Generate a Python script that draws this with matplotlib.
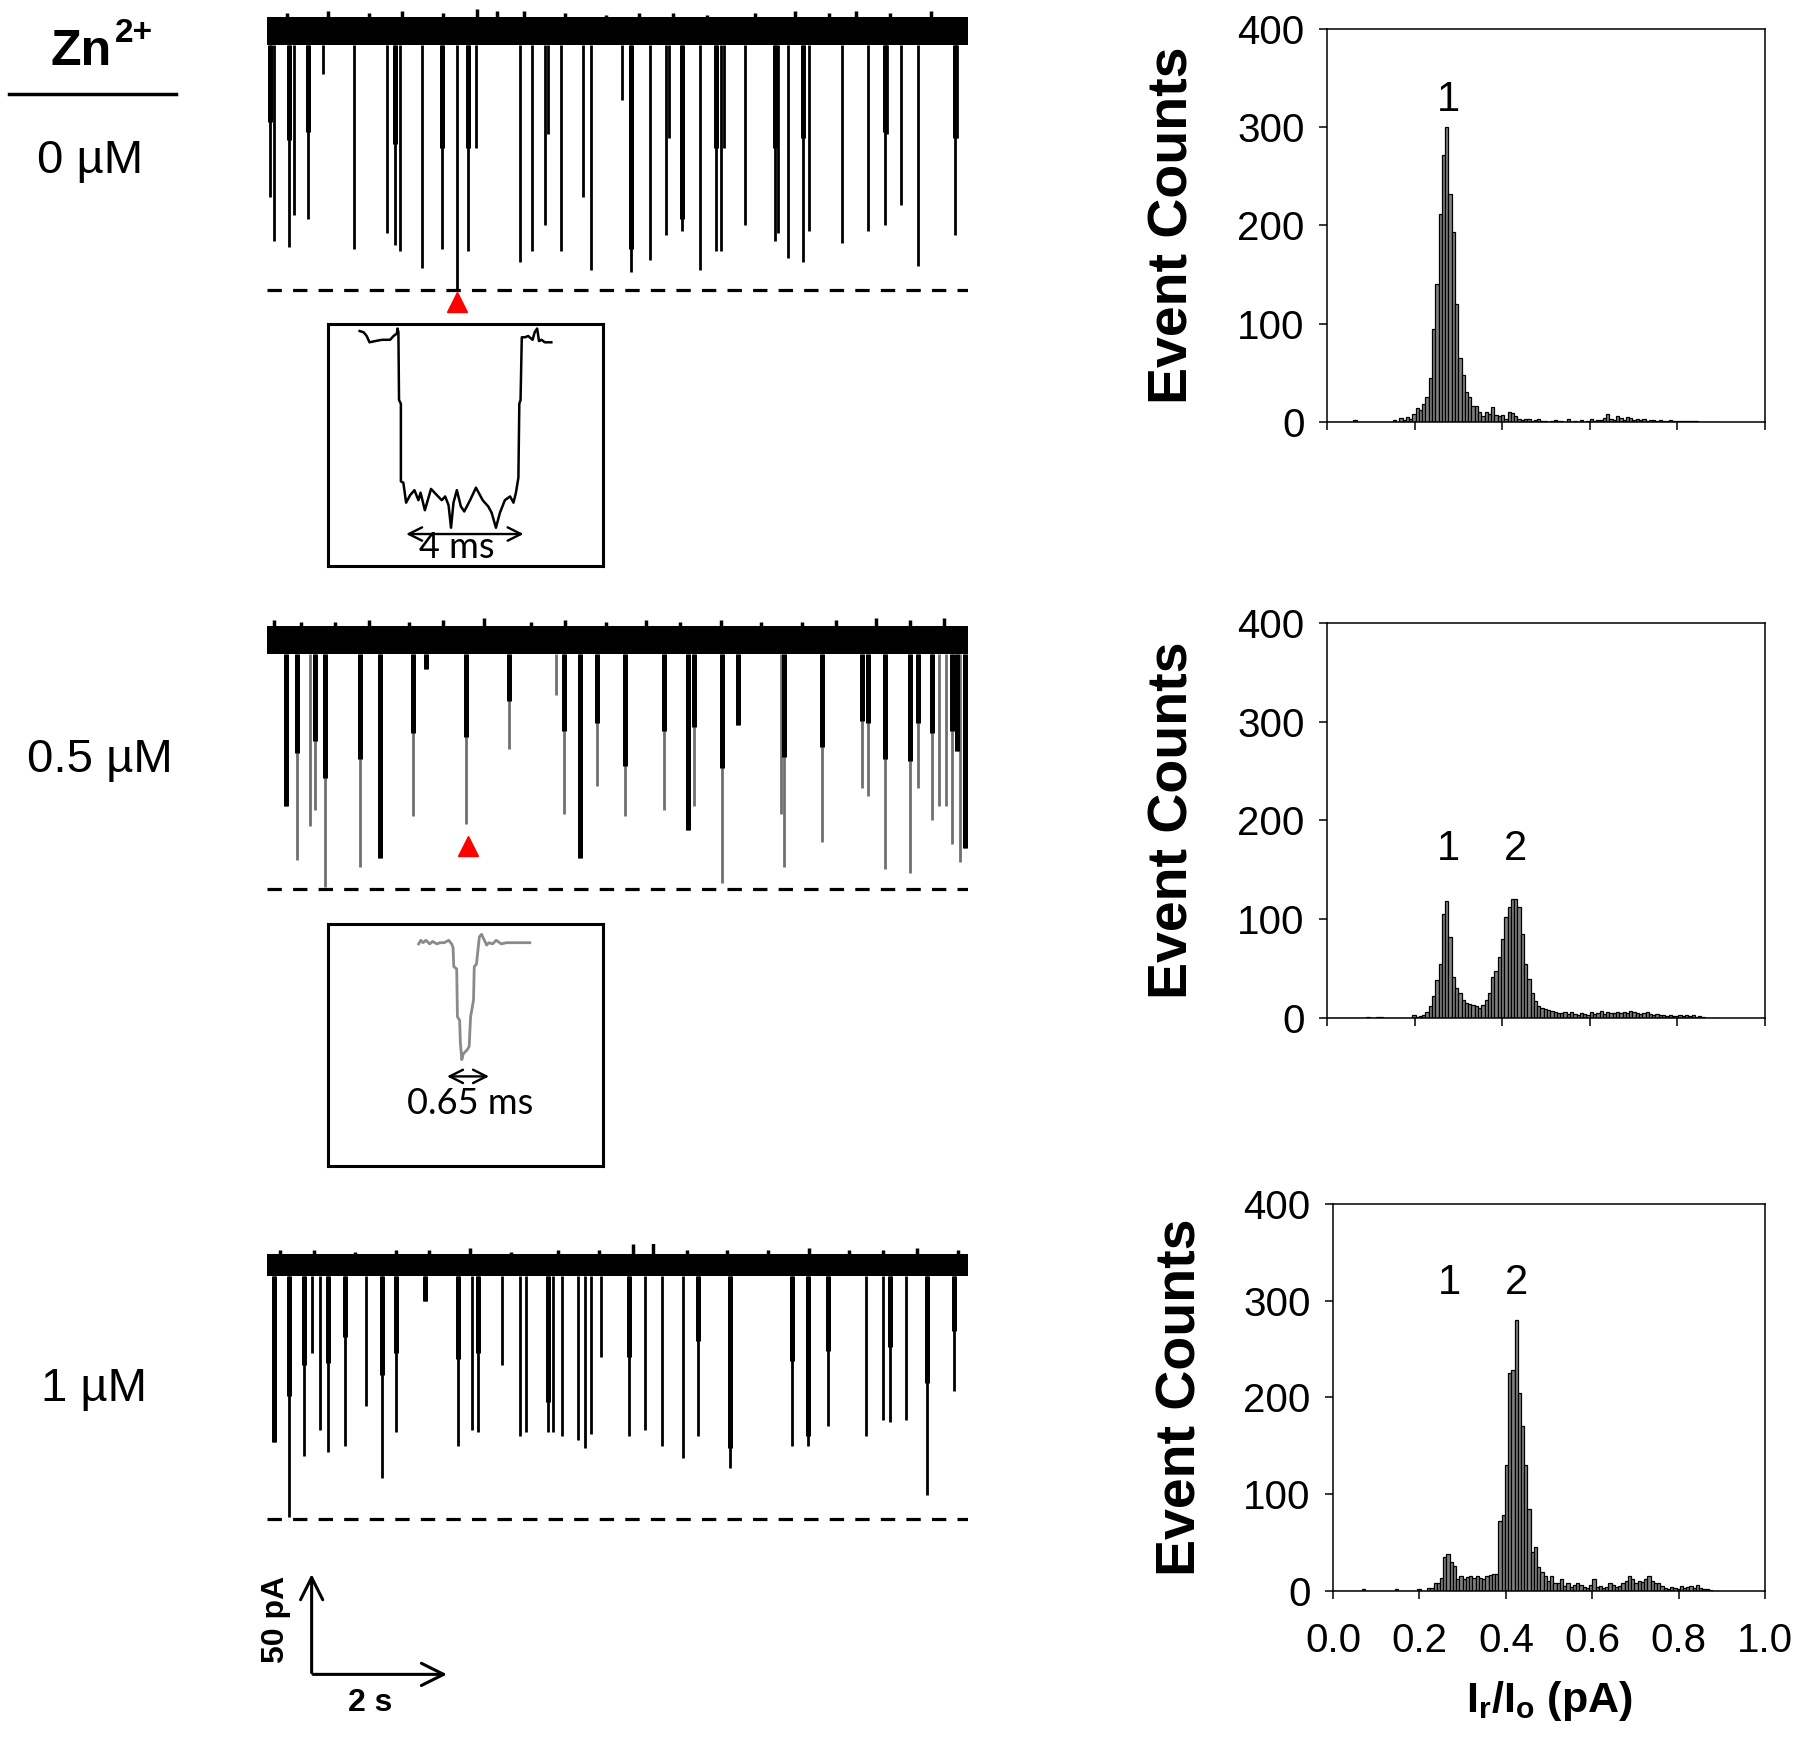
import numpy as np
import matplotlib
matplotlib.use('Agg')
import matplotlib.pyplot as plt

plt.rcParams['font.family'] = ['Liberation Sans', 'DejaVu Sans']
plt.rcParams['mathtext.fontset'] = 'custom'
plt.rcParams['mathtext.rm'] = 'Liberation Sans'
plt.rcParams['mathtext.it'] = 'Liberation Sans:italic'
plt.rcParams['mathtext.bf'] = 'Liberation Sans:bold'

# ---- histogram data (bin width 0.0075, first bin starts at 0.0) ----
BIN_W = 0.0075
hist_0uM = [0, 0, 0, 0, 0, 0, 0, 0, 2, 0,
            0, 0, 0, 0, 0, 0, 0, 0, 0, 0,
            2, 0, 4, 2, 5, 3, 8, 14, 12, 18,
            25, 45, 95, 140, 212, 272, 300, 232, 193, 120,
            65, 48, 30, 25, 16, 16, 10, 6, 10, 8,
            15, 7, 6, 7, 3, 10, 9, 6, 3, 2,
            3, 3, 1, 2, 3, 1, 1, 0, 1, 2,
            1, 1, 0, 3, 0, 1, 0, 2, 0, 1,
            3, 1, 2, 2, 4, 8, 3, 2, 6, 4,
            2, 5, 4, 2, 3, 2, 3, 1, 2, 2,
            1, 2, 1, 1, 2, 1, 1, 1, 1, 1,
            1, 1, 1, 0, 0, 0, 0, 0, 0, 0]
hist_05uM = [0, 0, 0, 0, 0, 0, 0, 0, 0, 0,
             0, 0, 1, 0, 0, 1, 1, 0, 0, 0,
             0, 0, 0, 0, 0, 0, 3, 1, 2, 3,
             6, 12, 22, 38, 55, 105, 118, 82, 42, 30,
             25, 18, 15, 14, 13, 12, 10, 13, 18, 25,
             42, 48, 62, 80, 102, 112, 120, 120, 112, 85,
             55, 40, 25, 17, 12, 10, 9, 8, 7, 6,
             5, 5, 6, 4, 6, 4, 3, 5, 4, 3,
             6, 4, 5, 7, 4, 6, 5, 5, 6, 5,
             6, 5, 7, 6, 5, 4, 5, 6, 4, 3,
             4, 3, 3, 2, 3, 2, 2, 3, 2, 3,
             2, 3, 1, 2, 1, 0, 0, 0, 0, 0]
hist_1uM = [0, 0, 0, 0, 0, 0, 0, 0, 0, 2,
            0, 0, 0, 0, 0, 0, 0, 0, 0, 2,
            0, 0, 0, 0, 0, 0, 2, 0, 0, 3,
            3, 8, 8, 13, 35, 38, 30, 26, 12, 15,
            12, 14, 15, 13, 15, 13, 12, 15, 16, 18,
            18, 72, 78, 130, 225, 228, 280, 205, 170, 130,
            85, 40, 45, 25, 20, 15, 10, 15, 8, 8,
            12, 5, 8, 4, 6, 8, 6, 4, 3, 6,
            12, 4, 5, 3, 4, 8, 6, 4, 5, 8,
            10, 15, 12, 8, 10, 9, 12, 15, 10, 8,
            8, 5, 3, 2, 4, 3, 2, 5, 3, 4,
            5, 3, 6, 3, 2, 2, 1, 0, 0, 0]
peak_labels = [[('1', 0.278, 328)],
               [('1', 0.278, 171), ('2', 0.43, 171)],
               [('1', 0.27, 318), ('2', 0.425, 318)]]
hist_xticks = [0.0, 0.2, 0.4, 0.6, 0.8, 1.0]
hist_yticks = [0, 100, 200, 300, 400]

# ---- current traces: event time (s), depth below baseline (pA), dark part (pA) ----
T_END = 10.35
trace1_t = [0.05, 0.11, 0.33, 0.40, 0.61, 0.83, 1.28, 1.77, 1.89, 1.96,
            2.29, 2.59, 2.81, 2.97, 3.09, 3.73, 3.92, 4.11, 4.15, 4.34,
            4.67, 4.79, 5.24, 5.38, 5.66, 5.90, 5.94, 6.13, 6.40, 6.63,
            6.70, 6.75, 7.06, 7.50, 7.55, 7.69, 7.92, 8.00, 8.49, 8.87,
            9.13, 9.16, 9.36, 9.62, 10.16, 10.19]
trace1_depth = [89, 111, 114, 98, 100, 28, 115, 107, 113, 116,
                124, 115, 135, 116, 65, 121, 116, 103, 58, 116,
                89, 125, 41, 126, 120, 108, 60, 106, 125, 116,
                116, 65, 103, 111, 107, 119, 121, 106, 112, 106,
                103, 58, 93, 123, 108, 60]
trace1_dark = [52, 0, 61, 0, 57, 0, 0, 0, 63, 0,
               0, 65, 0, 65, 0, 0, 0, 0, 0, 0,
               0, 0, 0, 115, 0, 0, 0, 100, 0, 65,
               0, 0, 0, 65, 0, 0, 60, 0, 0, 0,
               57, 0, 0, 0, 60, 0]

trace2_t = [0.28, 0.45, 0.64, 0.71, 0.85, 1.37, 1.67, 2.16, 2.35, 2.94,
            3.57, 4.27, 4.38, 4.63, 4.87, 5.28, 5.86, 6.22, 6.31, 6.72,
            6.96, 7.59, 7.63, 8.19, 8.78, 8.88, 9.12, 9.50, 9.62, 9.82,
            9.93, 10.03, 10.12, 10.19, 10.24, 10.31]
trace2_depth = [89, 116, 99, 91, 129, 119, 115, 94, 21, 98,
                61, 34, 93, 115, 79, 94, 91, 101, 89, 127,
                49, 93, 119, 107, 80, 84, 120, 122, 80, 96,
                89, 89, 108, 62, 117, 110]
trace2_dark = [89, 63, 0, 57, 75, 66, 115, 53, 21, 55,
               37, 0, 52, 115, 48, 69, 52, 101, 50, 70,
               49, 0, 65, 60, 47, 48, 66, 67, 48, 53,
               0, 0, 52, 62, 0, 110]

trace3_t = [0.11, 0.32, 0.55, 0.66, 0.79, 0.90, 1.16, 1.47, 1.70, 1.91,
            2.33, 2.82, 3.03, 3.11, 3.47, 3.73, 3.83, 4.15, 4.22, 4.36,
            4.59, 4.70, 4.79, 4.94, 5.34, 5.58, 5.83, 6.15, 6.37, 6.84,
            7.76, 7.99, 8.29, 8.85, 9.10, 9.20, 9.43, 9.75, 10.14]
trace3_depth = [93, 130, 100, 49, 87, 98, 95, 75, 111, 88,
                23, 95, 87, 88, 55, 90, 88, 88, 88, 90,
                92, 96, 89, 51, 90, 87, 95, 101, 90, 106,
                95, 95, 85, 90, 82, 83, 82, 119, 68]
trace3_dark = [93, 70, 55, 0, 0, 54, 41, 0, 60, 49,
               23, 52, 0, 49, 0, 0, 0, 73, 0, 0,
               0, 0, 0, 0, 51, 0, 0, 0, 43, 96,
               53, 90, 48, 0, 0, 46, 0, 64, 38]

# baseline noise bursts poking above the band (time s, height pA)
noise1_t = [0.3, 0.9, 1.5, 2.0, 2.6, 3.1, 3.4, 3.8, 4.4, 5.0, 5.5, 6.0, 6.5, 7.2, 7.8, 8.3, 8.7, 9.2, 9.8]
noise1_h = [2, 3, 2, 3, 2, 4, 3, 3, 2, 1, 2, 2, 1, 2, 3, 2, 3, 2, 3]
noise2_t = [0.1, 0.5, 1.0, 1.5, 2.1, 2.6, 3.2, 3.9, 4.4, 5.0, 5.6, 6.1, 6.7, 7.3, 7.9, 8.4, 9.0, 9.5, 10.0]
noise2_h = [3, 2, 2, 3, 2, 3, 4, 2, 3, 2, 3, 2, 3, 2, 2, 3, 4, 3, 4]
noise3_t = [0.2, 0.7, 1.3, 1.9, 2.4, 3.0, 3.6, 4.3, 4.9, 5.4, 5.7, 6.2, 6.8, 7.4, 8.0, 8.6, 9.1, 9.6, 10.2]
noise3_h = [2, 2, 1, 2, 2, 3, 1, 2, 2, 5, 6, 2, 2, 2, 3, 2, 2, 3, 2]

# ---- single event close-ups (time in ms, current in pA) ----
inset1_t = [1.03, 1.16, 1.26, 1.35, 1.54, 1.75, 2.02, 2.13, 2.24, 2.26, 2.29,
            2.31, 2.37, 2.37, 2.45, 2.54, 2.67, 2.81, 2.94, 3.01, 3.15, 3.35,
            3.54, 3.70, 3.81, 3.92, 4.00, 4.08, 4.19, 4.32, 4.43, 4.62, 4.81,
            5.03, 5.21, 5.32, 5.46, 5.59, 5.75, 5.92, 6.03, 6.11, 6.19, 6.22,
            6.26, 6.30, 6.40, 6.51, 6.65, 6.72, 6.80, 6.86, 6.94, 7.05, 7.26]
inset1_i = [5, 4, 1, -4, -3, -2, -2, 1, 3, 7, 4,
            -50, -53, -115, -116, -132, -126, -122, -130, -124, -138, -121,
            -126, -130, -127, -134, -152, -132, -122, -135, -139, -130, -120,
            -130, -135, -140, -152, -140, -130, -127, -132, -124, -112, -53,
            -50, 0, 0, 1, -2, 4, 7, -3, -2, -4, -4]
inset2_t = [1.24, 1.27, 1.30, 1.34, 1.39, 1.43, 1.49, 1.53, 1.59, 1.65, 1.69,
            1.71, 1.72, 1.76, 1.77, 1.80, 1.81, 1.83, 1.85, 1.90, 1.93, 1.95,
            1.99, 2.00, 2.03, 2.07, 2.10, 2.13, 2.17, 2.20, 2.25, 2.30, 2.37,
            2.44, 2.53, 2.62, 2.76]
inset2_i = [0, 3, 1, 3, 0, 2, 0, 1, 1, 3, 0,
            -3, -19, -21, -61, -64, -83, -97, -92, -89, -86, -61,
            -47, -19, -17, 6, 8, 4, -1, 1, 0, 3, 0,
            1, 1, 1, 1]

concentrations = ['0 \u00b5M', '0.5 \u00b5M', '1 \u00b5M']

fig = plt.figure(figsize=(18, 17.42), dpi=100)


def draw_trace(ax, t, depth, dark, band, dash_y, noise_t, noise_h, low_color='black'):
    t = np.array(t)
    depth = np.array(depth)
    dark = np.array(dark)
    ax.fill_between([0, T_END], -band, 0, color='black', lw=0)
    ax.vlines(noise_t, -1, noise_h, colors='black', lw=2.5)
    ax.vlines(t, -band, -depth, colors=low_color, lw=2.0)
    m = dark > 0
    ax.vlines(t[m], -band, -dark[m], colors='black', lw=3.6)
    ax.axhline(dash_y, color='black', lw=2.3, dashes=(4.5, 3.5))
    ax.set_xlim(0, T_END)
    ax.set_ylim(-145, 5)
    ax.set_axis_off()


trace_boxes = [[0.1483, 0.822, 0.3894, 0.174],
               [0.1483, 0.4724, 0.3894, 0.174],
               [0.1483, 0.1119, 0.3894, 0.174]]
ax1 = fig.add_axes(trace_boxes[0])
draw_trace(ax1, trace1_t, trace1_depth, trace1_dark, 14, -135, noise1_t, noise1_h)
ax1.plot(2.81, -141, marker='^', color='red', ms=15, clip_on=False)

ax2 = fig.add_axes(trace_boxes[1])
draw_trace(ax2, trace2_t, trace2_depth, trace2_dark, 14, -130, noise2_t, noise2_h,
           low_color='#707070')
ax2.plot(2.97, -109, marker='^', color='red', ms=15, clip_on=False)

ax3 = fig.add_axes(trace_boxes[2])
draw_trace(ax3, trace3_t, trace3_depth, trace3_dark, 11, -131, noise3_t, noise3_h)

# scale bar (50 pA, 2 s) in trace units
arrow = dict(arrowstyle='->', lw=2.2, color='black', mutation_scale=40)
ax3.annotate('', xy=(0.66, -157), xytext=(0.66, -208.5), arrowprops=arrow, annotation_clip=False)
ax3.annotate('', xy=(2.7, -208), xytext=(0.64, -208), arrowprops=arrow, annotation_clip=False)
ax3.text(0.13, -181, '50 pA', rotation=90, ha='center', va='center', fontsize=23,
         fontweight='bold', clip_on=False)
ax3.text(1.52, -222, '2 s', ha='center', va='center', fontsize=23, fontweight='bold', clip_on=False)

# insets
ins1 = fig.add_axes([0.1822, 0.6751, 0.1528, 0.1389])
ins1.plot(inset1_t, inset1_i, color='black', lw=1.8)
ins1.set_xlim(0, 8.94)
ins1.set_ylim(-182.5, 10.6)
ins1.annotate('', xy=(2.45, -157), xytext=(6.45, -157),
              arrowprops=dict(arrowstyle='<->', lw=1.7, color='black', mutation_scale=24))
ins1.text(4.18, -168, '4 ms', ha='center', va='center', fontsize=26, family=['Lato', 'DejaVu Sans'])

ins2 = fig.add_axes([0.1822, 0.3307, 0.1528, 0.1389])
ins2.plot(inset2_t, inset2_i, color='#8a8a8a', lw=2.0)
ins2.set_xlim(0, 3.76)
ins2.set_ylim(-186, 16.7)
ins2.annotate('', xy=(1.59, -111), xytext=(2.24, -111),
              arrowprops=dict(arrowstyle='<->', lw=1.7, color='black', mutation_scale=24))
ins2.text(1.94, -134, '0.65 ms', ha='center', va='center', fontsize=26, family=['Lato', 'DejaVu Sans'])

for ax in (ins1, ins2):
    ax.set_xticks([])
    ax.set_yticks([])
    for sp in ax.spines.values():
        sp.set_linewidth(2.2)

# left column labels
fig.text(0.0453, 0.970, 'Zn', ha='center', va='center', fontsize=36, fontweight='bold')
fig.text(0.0640, 0.981, '2+', ha='left', va='center', fontsize=24, fontweight='bold')
fig.add_artist(plt.Line2D([0.005, 0.0978], [0.946, 0.946], color='black', lw=2.5))
fig.text(0.050, 0.9076, concentrations[0], ha='center', va='center', fontsize=34)
fig.text(0.0556, 0.5637, concentrations[1], ha='center', va='center', fontsize=34)
fig.text(0.0522, 0.2026, concentrations[2], ha='center', va='center', fontsize=34)

# histograms
hist_boxes = [[0.7372, 0.7578, 0.2433, 0.2256],
              [0.7372, 0.4156, 0.2433, 0.2268],
              [0.7406, 0.0867, 0.2400, 0.2222]]
hists = [hist_0uM, hist_05uM, hist_1uM]
bin_left = np.arange(len(hist_0uM)) * BIN_W
for k in range(3):
    ax = fig.add_axes(hist_boxes[k])
    ax.bar(bin_left, hists[k], width=BIN_W, align='edge', color='#808080',
           edgecolor='black', linewidth=0.9)
    ax.set_xlim(0, 1.0)
    ax.set_ylim(0, 400)
    ax.set_xticks(hist_xticks)
    ax.set_yticks(hist_yticks)
    ax.tick_params(direction='out', length=6, width=1.1, labelsize=29, pad=10)
    ax.tick_params(axis='x', pad=16)
    for sp in ax.spines.values():
        sp.set_linewidth(1.1)
    ax.set_ylabel('Event Counts', fontsize=40, fontweight='bold')
    ax.yaxis.set_label_coords(-0.29, 0.5)
    for lab, x, y in peak_labels[k]:
        ax.text(x, y, lab, ha='center', va='center', fontsize=30)
    if k < 2:
        ax.tick_params(axis='x', labelbottom=False)
    else:
        ax.set_xticklabels(['%.1f' % v for v in hist_xticks])
        ax.set_xlabel(r'$\mathbf{I_r/I_o}$ (pA)', fontsize=31, fontweight='bold', labelpad=14)

fig.savefig('out.png', dpi=100)
